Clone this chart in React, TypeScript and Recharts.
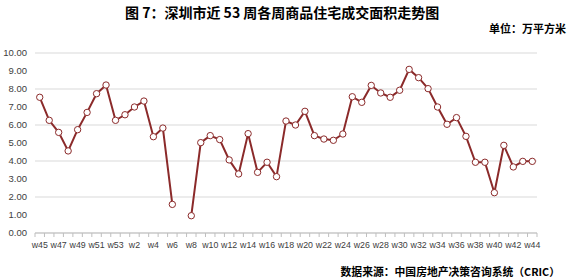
import { LineChart, Line, XAxis, YAxis, CartesianGrid } from "recharts";

const weeks = [
  "w45", "w46", "w47", "w48", "w49", "w50", "w51", "w52", "w53",
  "w1", "w2", "w3", "w4", "w5", "w6", "w7", "w8", "w9", "w10",
  "w11", "w12", "w13", "w14", "w15", "w16", "w17", "w18", "w19", "w20",
  "w21", "w22", "w23", "w24", "w25", "w26", "w27", "w28", "w29", "w30",
  "w31", "w32", "w33", "w34", "w35", "w36", "w37", "w38", "w39", "w40",
  "w41", "w42", "w43", "w44",
];

// 万平方米, w7 has no data
const area: (number | null)[] = [
  7.54, 6.26, 5.59, 4.56, 5.74, 6.7, 7.74, 8.22, 6.26,
  6.57, 7.0, 7.33, 5.35, 5.83, 1.59, null, 0.96, 5.02, 5.41,
  5.19, 4.06, 3.28, 5.52, 3.37, 3.93, 3.13, 6.22, 6.0, 6.76,
  5.41, 5.22, 5.15, 5.5, 7.57, 7.26, 8.2, 7.78, 7.54, 7.93,
  9.09, 8.63, 8.02, 7.0, 6.04, 6.41, 5.37, 3.93, 3.93, 2.24,
  4.87, 3.67, 3.98, 3.98,
];

const yTicks = [0, 1, 2, 3, 4, 5, 6, 7, 8, 9, 10];

const data = weeks.map((w, i) => ({ week: w, area: area[i] }));

const W = 570;
const H = 280;
const plotLeft = 35;
const plotRight = 33;
const step = (W - plotLeft - plotRight) / weeks.length;

const WeekTick = (props: any) => {
  const { x, y, payload, index } = props;
  const axisY = y - 7;
  const bx = x - step / 2;
  return (
    <g>
      <line x1={bx} y1={axisY} x2={bx} y2={axisY + 4} stroke="#bfbfbf" />
      {index === weeks.length - 1 && (
        <line x1={bx + step} y1={axisY} x2={bx + step} y2={axisY + 4} stroke="#bfbfbf" />
      )}
      {index % 2 === 0 && (
        <text
          x={x}
          y={y + 2}
          dy="0.71em"
          textAnchor="middle"
          fontSize={8.8}
          fill="#404040"
        >
          {payload.value}
        </text>
      )}
    </g>
  );
};

export default function App() {
  return (
    <div
      style={{
        position: "absolute",
        left: 0,
        top: 0,
        width: W,
        height: H,
        background: "#fff",
        fontFamily: "'Liberation Sans', Arial, sans-serif",
      }}
    >
      <div
        style={{
          position: "absolute",
          left: 125,
          top: 2,
          fontFamily: "'Noto Sans CJK SC', sans-serif",
          fontWeight: 700,
          fontSize: 14,
          color: "#000",
          whiteSpace: "nowrap",
        }}
      >
        图 7：深圳市近 53 周各周商品住宅成交面积走势图
      </div>
      <div
        style={{
          position: "absolute",
          right: 4,
          top: 20,
          fontFamily: "'Noto Sans CJK SC', sans-serif",
          fontWeight: 700,
          fontSize: 11,
          color: "#000",
          whiteSpace: "nowrap",
        }}
      >
        单位：万平方米
      </div>
      <div
        style={{
          position: "absolute",
          right: 10,
          top: 263,
          fontFamily: "'Noto Sans CJK SC', sans-serif",
          fontWeight: 700,
          fontSize: 10.8,
          color: "#000",
          whiteSpace: "nowrap",
        }}
      >
        数据来源：中国房地产决策咨询系统（CRIC）
      </div>
      <LineChart
        width={W}
        height={H}
        data={data}
        margin={{ top: 53, right: plotRight, bottom: 27, left: 0 }}
      >
        <CartesianGrid vertical={false} stroke="#d9d9d9" />
        <XAxis
          dataKey="week"
          interval={0}
          height={20}
          tickSize={4}
          tickMargin={3}
          tickLine={false}
          padding={{ left: step / 2, right: step / 2 }}
          axisLine={{ stroke: "#bfbfbf" }}
          tick={<WeekTick />}
        />
        <YAxis
          domain={[0, 10]}
          ticks={yTicks}
          width={plotLeft}
          axisLine={false}
          tickLine={false}
          tickFormatter={(v: number) => v.toFixed(2)}
          tick={{ fontSize: 9.5, fill: "#404040" }}
        />
        <Line
          type="linear"
          dataKey="area"
          stroke="#8b2a2a"
          strokeWidth={2}
          connectNulls={false}
          dot={{ r: 3.2, fill: "#fff", stroke: "#8b2a2a", strokeWidth: 1 }}
          isAnimationActive={false}
        />
      </LineChart>
    </div>
  );
}
